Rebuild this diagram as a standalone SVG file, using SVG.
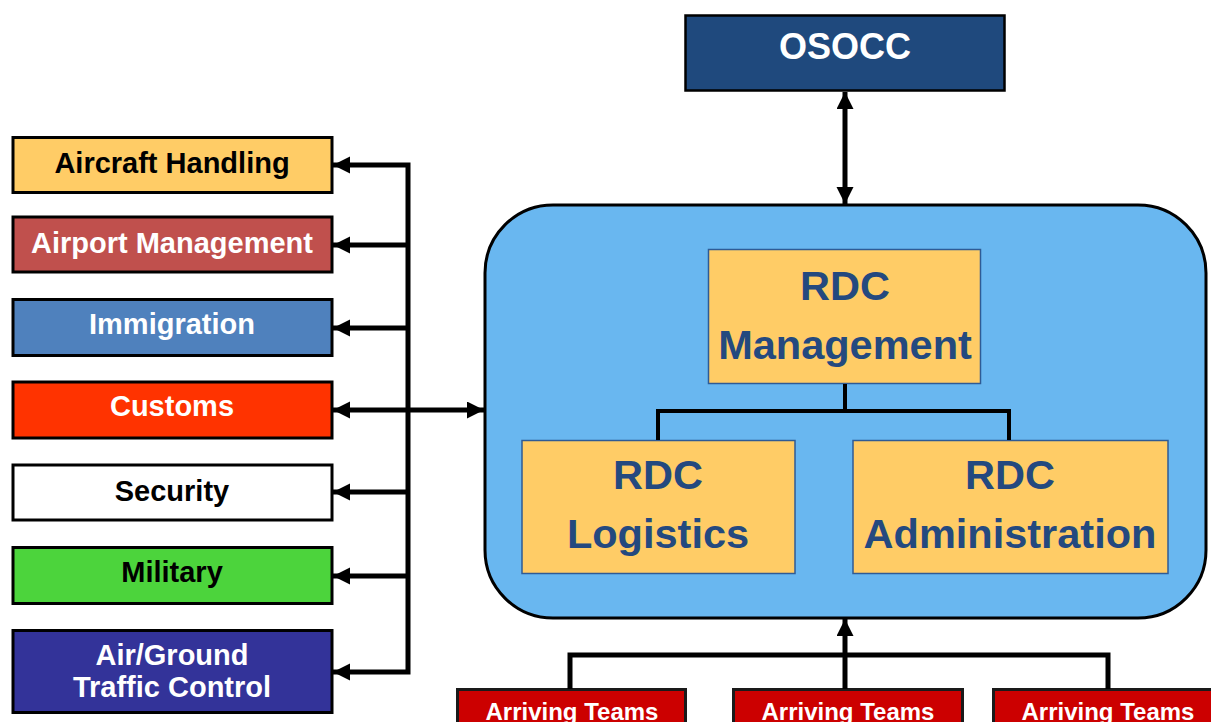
<svg xmlns="http://www.w3.org/2000/svg" width="1211" height="722" viewBox="0 0 1211 722">
  <style>
    .lbl { font-family: "Liberation Sans", Arial, sans-serif; font-weight: bold; text-anchor: middle; }
    .side { font-size: 29px; }
    .box { stroke: #000; stroke-width: 3; }
    .rdc { fill: #FFCC66; stroke: #2F5B95; stroke-width: 1.5; }
    .rdcTxt { font-size: 41.5px; fill: #24497F; }
    .team { fill: #CC0000; stroke: #1a1a1a; stroke-width: 3; }
    .wire { fill: none; stroke: #000; stroke-width: 5; }
    .tree { fill: none; stroke: #000; stroke-width: 4; }
  </style>
  <defs>
    <marker id="arrow" markerUnits="userSpaceOnUse" markerWidth="18" markerHeight="18" refX="17" refY="8.5" orient="auto-start-reverse" viewBox="0 0 18 18">
      <path d="M0,0 L17,8.5 L0,17 z" fill="#000"/>
    </marker>
  </defs>

  <rect width="1211" height="722" fill="#fff"/>

  <!-- partner agencies -->
  <g id="aircraft-handling">
    <rect class="box" x="13" y="137.5" width="319" height="55" fill="#FFCC66"/>
    <text class="lbl side" x="172" y="173" fill="#000">Aircraft Handling</text>
  </g>
  <g id="airport-management">
    <rect class="box" x="13" y="217" width="319" height="55" fill="#C0504D"/>
    <text class="lbl side" x="172" y="253" fill="#fff">Airport Management</text>
  </g>
  <g id="immigration">
    <rect class="box" x="13" y="299.5" width="319" height="56" fill="#4F81BD"/>
    <text class="lbl side" x="172" y="334" fill="#fff">Immigration</text>
  </g>
  <g id="customs">
    <rect class="box" x="13" y="382" width="319" height="56" fill="#FF3300"/>
    <text class="lbl side" x="172" y="416" fill="#fff">Customs</text>
  </g>
  <g id="security">
    <rect class="box" x="13" y="465" width="319" height="55" fill="#fff"/>
    <text class="lbl side" x="172" y="501" fill="#000">Security</text>
  </g>
  <g id="military">
    <rect class="box" x="13" y="547.5" width="319" height="56" fill="#4CD43C"/>
    <text class="lbl side" x="172" y="582" fill="#000">Military</text>
  </g>
  <g id="air-ground-traffic-control">
    <rect class="box" x="13" y="630.5" width="319" height="82" fill="#333399"/>
    <text class="lbl side" x="172" y="665" fill="#fff">Air/Ground</text>
    <text class="lbl side" x="172" y="697" fill="#fff">Traffic Control</text>
  </g>

  <!-- OSOCC -->
  <g id="osocc">
    <rect x="685.5" y="15.5" width="319" height="75" fill="#1F497D" stroke="#000" stroke-width="2.5"/>
    <text class="lbl" x="845" y="59" font-size="36" fill="#fff">OSOCC</text>
  </g>

  <!-- RDC container -->
  <g id="rdc">
    <rect x="485" y="205" width="721" height="413" rx="68" ry="68" fill="#69B7F0" stroke="#000" stroke-width="3"/>
  </g>
  <g id="rdc-management">
    <rect class="rdc" x="708.5" y="249.5" width="272" height="134"/>
    <text class="lbl rdcTxt" x="845" y="300">RDC</text>
    <text class="lbl rdcTxt" x="845" y="359">Management</text>
  </g>
  <g id="rdc-logistics">
    <rect class="rdc" x="522" y="440.5" width="273" height="133"/>
    <text class="lbl rdcTxt" x="658" y="489">RDC</text>
    <text class="lbl rdcTxt" x="658" y="548">Logistics</text>
  </g>
  <g id="rdc-administration">
    <rect class="rdc" x="853" y="440.5" width="315" height="133"/>
    <text class="lbl rdcTxt" x="1010" y="489">RDC</text>
    <text class="lbl rdcTxt" x="1010" y="548">Administration</text>
  </g>

  <!-- arriving teams -->
  <g id="arriving-teams-1">
    <rect class="team" x="457.5" y="689.5" width="228" height="40"/>
    <text class="lbl" x="572" y="720" font-size="24" fill="#fff">Arriving Teams</text>
  </g>
  <g id="arriving-teams-2">
    <rect class="team" x="733.5" y="689.5" width="229" height="40"/>
    <text class="lbl" x="848" y="720" font-size="24" fill="#fff">Arriving Teams</text>
  </g>
  <g id="arriving-teams-3">
    <rect class="team" x="993.5" y="689.5" width="229" height="40"/>
    <text class="lbl" x="1108" y="720" font-size="24" fill="#fff">Arriving Teams</text>
  </g>

  <!-- connectors -->
  <g id="connectors">
    <path class="wire" d="M333,165 H408 V672 H333" marker-start="url(#arrow)" marker-end="url(#arrow)"/>
    <path class="wire" d="M408,245 H333" marker-end="url(#arrow)"/>
    <path class="wire" d="M408,328 H333" marker-end="url(#arrow)"/>
    <path class="wire" d="M408,492 H333" marker-end="url(#arrow)"/>
    <path class="wire" d="M408,576 H333" marker-end="url(#arrow)"/>
    <path class="wire" d="M333,410 H484" marker-start="url(#arrow)" marker-end="url(#arrow)"/>
    <path class="wire" d="M845,92 V204" marker-start="url(#arrow)" marker-end="url(#arrow)"/>
    <path class="tree" d="M845,384 V411 M658,440 V411 H1009 V440"/>
    <path class="wire" d="M845,689 V619" marker-end="url(#arrow)"/>
    <path class="wire" d="M570,689 V655 H1108 V689"/>
  </g>
</svg>
